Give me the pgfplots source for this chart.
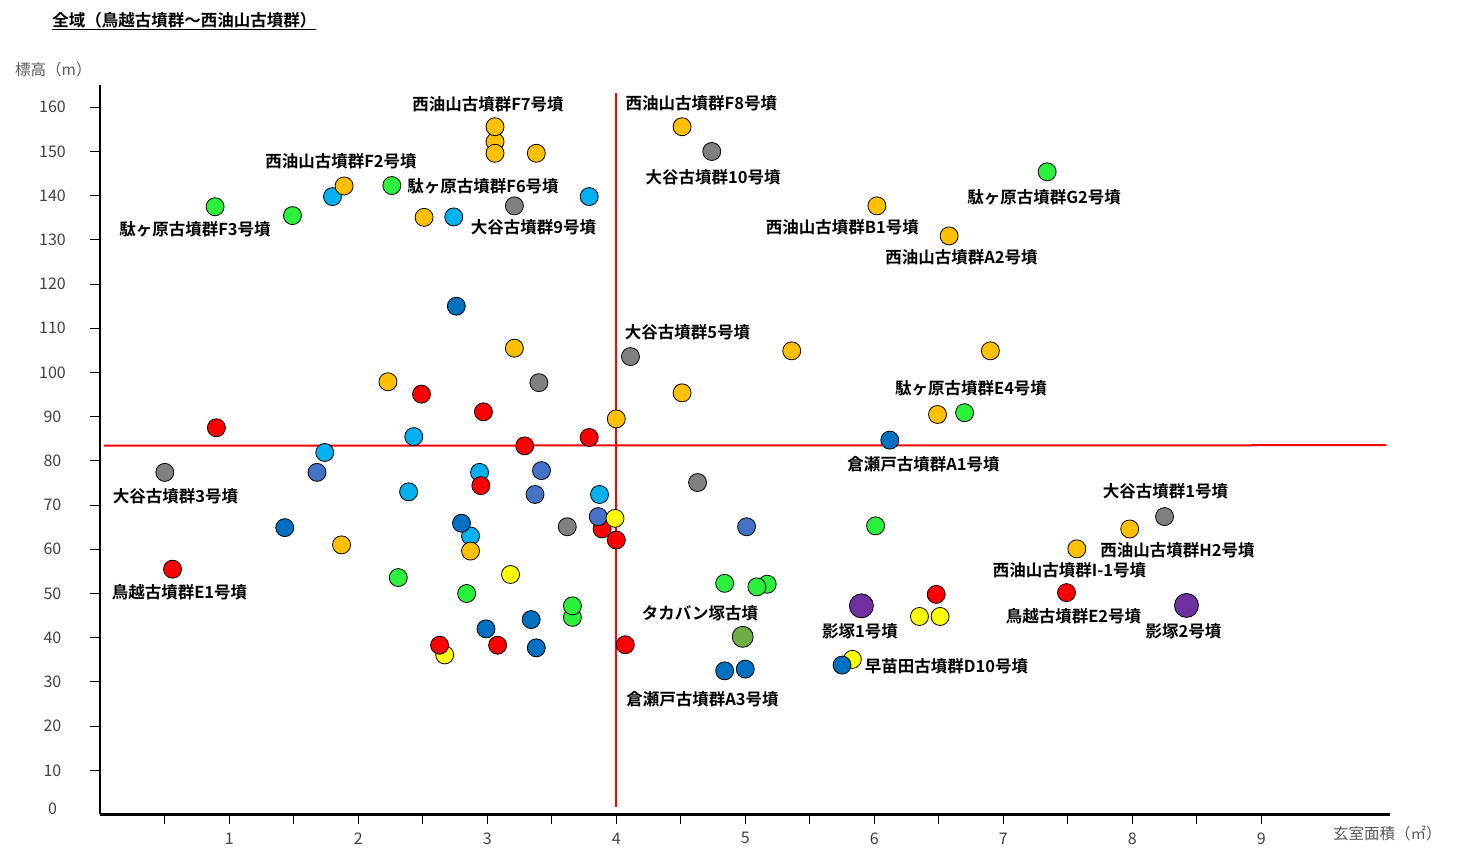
\documentclass[border=0pt]{standalone}
\usepackage{fontspec}
\usepackage{pgfplots}
\pgfplotsset{compat=1.18}
\setmainfont{Noto Sans CJK JP}[BoldFont={Noto Sans CJK JP Bold}]

\definecolor{cGold}{HTML}{FFC000}
\definecolor{cRed}{HTML}{FF0000}
\definecolor{cGreen}{HTML}{2BF03C}
\definecolor{cSky}{HTML}{00B0F0}
\definecolor{cNavy}{HTML}{0070C0}
\definecolor{cSteel}{HTML}{4472C4}
\definecolor{cGray}{HTML}{808080}
\definecolor{cYellow}{HTML}{FFFF00}
\definecolor{cPurple}{HTML}{7030A0}
\definecolor{cOlive}{HTML}{70AD47}
\definecolor{tickgray}{HTML}{404040}
\definecolor{labelgray}{HTML}{595959}

\pgfplotsset{
  dot/.style={only marks, mark=*, mark size=9pt,
    mark options={draw=black, fill=#1, line width=0.8pt}},
  refline/.style={draw=cRed, color=cRed, line width=2pt, mark=none, solid},
}
\tikzset{
  lab/.style={font=\fontsize{16.5}{19}\selectfont\bfseries, inner sep=0pt, anchor=center, text=black},
}

\begin{document}
\begin{tikzpicture}
\useasboundingbox (-100.3pt,-52.5pt) rectangle (1361.7pt,814.5pt);
\begin{axis}[
  scale only axis, width=1290pt, height=729.3pt,
  xmin=0, xmax=10, ymin=0, ymax=165,
  clip=false,
  axis x line*=bottom, axis y line*=left,
  axis line style={line width=2.2pt, -},
  tick align=outside,
  major tick length=10pt,
  tick style={black, line width=0.8pt},
  xtick={0.5,1,...,9},
  xticklabels={{},1,{},2,{},3,{},4,{},5,{},6,{},7,{},8,{},9},
  ytick={10,20,...,160},
  extra y ticks={0},
  extra y tick style={tick style={draw=none}, yticklabel style={yshift=5.8pt}},
  /pgf/number format/assume math mode=true,
  ticklabel style={font=\fontsize{16}{19}\selectfont, text=tickgray},
  yticklabel style={anchor=center, xshift=-37.8pt},
  xticklabel style={anchor=center, yshift=-13.8pt},
  title={\underline{全域（鳥越古墳群～西油山古墳群）}},
  every axis title/.style={at={(axis description cs:-0.0374,1.088)}, anchor=west, inner sep=0pt,
    font=\fontsize{16.5}{19}\selectfont\bfseries},
  xlabel={玄室面積（㎡）},
  every axis x label/.style={at={(axis description cs:0.9556,-0.0254)}, anchor=west, inner sep=0pt,
    font=\fontsize{15.5}{18}\selectfont, text=labelgray},
  ylabel={標高（m）},
  every axis y label/.style={at={(axis description cs:-0.0661,1.0208)}, anchor=west, inner sep=0pt,
    font=\fontsize{15.5}{18}\selectfont, text=labelgray},
]

% light blue
\addplot[dot=cSky] coordinates {
  (1.80,139.8) (2.74,135.2) (3.79,139.8) (1.74,81.9) (2.43,85.5)
  (2.94,77.4) (2.39,73.0) (3.87,72.4) (2.87,63.0)};
% red (lower layer)
\addplot[dot=cRed] coordinates {
  (3.89,64.6) (0.90,87.5) (2.49,95.1) (2.97,91.1) (3.29,83.4) (3.79,85.3)
  (2.95,74.4) (0.56,55.5) (3.08,38.3) (4.07,38.4) (7.49,50.2) (6.48,49.8)};
% steel blue
\addplot[dot=cSteel] coordinates {
  (1.68,77.4) (3.42,77.8) (3.37,72.4) (3.86,67.4) (5.01,65.1)};
% yellow
\addplot[dot=cYellow] coordinates {
  (2.67,36.1) (3.18,54.3) (3.99,67.0) (6.35,44.8) (6.51,44.8) (5.83,35.1)};
% red (upper layer)
\addplot[dot=cRed] coordinates {(2.63,38.3) (4.00,62.1)};
% dark blue
\addplot[dot=cNavy] coordinates {
  (2.76,115.0) (1.43,64.9) (2.80,65.9) (2.99,42.0) (3.34,44.1) (3.38,37.7)
  (6.12,84.7) (4.84,32.5) (5.00,32.9) (5.75,33.8)};
% gold
\addplot[dot=cGold] coordinates {
  (3.06,152.2) (3.06,155.6) (3.06,149.6) (3.38,149.6) (1.89,142.2) (2.51,135.1)
  (4.51,155.6) (6.02,137.7) (6.58,130.9) (5.36,104.9) (6.90,104.9) (3.21,105.5)
  (2.23,97.9) (4.51,95.4) (4.00,89.5) (6.49,90.5) (1.87,61.0) (2.87,59.6)
  (7.98,64.6) (7.57,60.1)};
% gray
\addplot[dot=cGray] coordinates {
  (4.74,150.0) (3.21,137.7) (4.11,103.6) (3.40,97.7) (0.50,77.4) (4.63,75.1)
  (3.62,65.1) (8.25,67.4)};
% green
\addplot[dot=cGreen] coordinates {
  (0.89,137.5) (1.49,135.5) (2.26,142.3) (7.34,145.4) (6.70,90.9) (6.01,65.3)
  (2.31,53.6) (2.84,50.0) (3.66,44.6) (3.66,47.2) (4.84,52.3) (5.17,52.1) (5.09,51.5)};
% olive
\addplot[dot=cOlive, mark size=10.5pt] coordinates {(4.98,40.2)};
% purple
\addplot[dot=cPurple, mark size=12pt] coordinates {(5.90,47.2) (8.42,47.3)};

% reference lines
\addplot[refline] coordinates {(0.03,83.45) (9.97,83.55)};
\addplot[refline] coordinates {(4,1.8) (4,163.3)};

% names
\node[lab] at (axis cs:3.005,160.7) {西油山古墳群F7号墳};
\node[lab] at (axis cs:4.66,161.0) {西油山古墳群F8号墳};
\node[lab] at (axis cs:1.866,147.9) {西油山古墳群F2号墳};
\node[lab] at (axis cs:2.967,142.2) {駄ヶ原古墳群F6号墳};
\node[lab] at (axis cs:4.75,144.2) {大谷古墳群10号墳};
\node[lab] at (axis cs:7.316,139.7) {駄ヶ原古墳群G2号墳};
\node[lab] at (axis cs:0.734,132.5) {駄ヶ原古墳群F3号墳};
\node[lab] at (axis cs:3.358,132.9) {大谷古墳群9号墳};
\node[lab] at (axis cs:5.753,132.9) {西油山古墳群B1号墳};
\node[lab] at (axis cs:6.676,126.1) {西油山古墳群A2号墳};
\node[lab] at (axis cs:4.552,109.2) {大谷古墳群5号墳};
\node[lab] at (axis cs:6.75,96.5) {駄ヶ原古墳群E4号墳};
\node[lab] at (axis cs:6.381,79.3) {倉瀬戸古墳群A1号墳};
\node[lab] at (axis cs:0.583,72.1) {大谷古墳群3号墳};
\node[lab] at (axis cs:8.257,73.2) {大谷古墳群1号墳};
\node[lab] at (axis cs:8.35,59.8) {西油山古墳群H2号墳};
\node[lab] at (axis cs:7.513,55.3) {西油山古墳群I-1号墳};
\node[lab] at (axis cs:0.614,50.3) {鳥越古墳群E1号墳};
\node[lab] at (axis cs:7.544,44.9) {鳥越古墳群E2号墳};
\node[lab] at (axis cs:4.649,45.6) {タカバン塚古墳};
\node[lab] at (axis cs:5.889,41.5) {影塚1号墳};
\node[lab] at (axis cs:8.397,41.5) {影塚2号墳};
\node[lab] at (axis cs:6.56,33.6) {早苗田古墳群D10号墳};
\node[lab] at (axis cs:4.668,26.1) {倉瀬戸古墳群A3号墳};
\end{axis}
\end{tikzpicture}
\end{document}
